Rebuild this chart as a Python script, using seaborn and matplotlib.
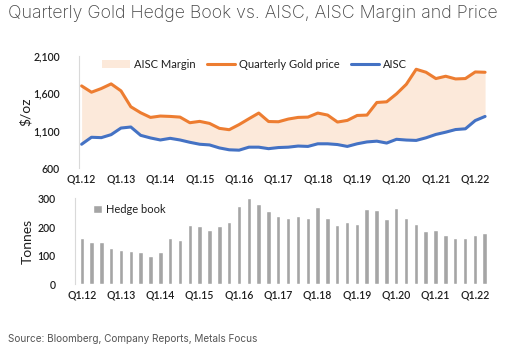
import pandas as pd
import matplotlib
matplotlib.use("Agg")
import matplotlib.pyplot as plt
import seaborn as sns
from matplotlib.patches import Patch
from matplotlib.lines import Line2D

# Quarters Q1.12 .. Q2.22
quarters = [f"Q{q}.{y}" for y in range(12, 23) for q in range(1, 5)][:42]

gold_price = [1697, 1613, 1662, 1724, 1631, 1419, 1339, 1277, 1295, 1290, 1281, 1206,
              1224, 1197, 1131, 1113, 1181, 1259, 1335, 1222, 1219, 1255, 1277, 1281,
              1335, 1308, 1215, 1237, 1303, 1308, 1476, 1485, 1591, 1719, 1919, 1879,
              1795, 1826, 1790, 1795, 1883, 1879]

aisc = [919, 1012, 1007, 1047, 1135, 1149, 1038, 1003, 976, 998, 976, 945,
        919, 910, 870, 845, 840, 880, 880, 860, 875, 880, 895, 890,
        925, 925, 915, 890, 925, 950, 960, 935, 985, 975, 970, 1005,
        1050, 1080, 1115, 1125, 1235, 1290]

hedge_book = [160, 148, 148, 125, 120, 117, 114, 100, 112, 163, 155, 206,
              202, 188, 202, 219, 274, 300, 281, 257, 240, 233, 240, 230,
              269, 230, 206, 219, 212, 263, 259, 227, 265, 230, 209, 185,
              191, 172, 160, 163, 173, 178]

ORANGE = "#ED7D31"
BLUE = "#4472C4"
FILL = "#FCE9DA"
GREY_BAR = "#A5A5A5"
TEXT = "#1F1F1F"
AXIS = "#D9D9D9"


def style_axis(ax):
    for s in ["top", "right", "bottom"]:
        ax.spines[s].set_visible(False)
    ax.spines["left"].set_color(AXIS)
    ax.tick_params(axis="y", colors=AXIS, labelcolor=TEXT, labelsize=7.6,
                   length=3, pad=11)
    ax.tick_params(axis="x", length=0, labelcolor=TEXT, labelsize=7.6, pad=4)
    for lab in ax.get_xticklabels() + ax.get_yticklabels():
        lab.set_fontweight("semibold")
    ax.grid(False)


def main():
    sns.set_style("white")
    plt.rcParams["font.family"] = ["Lato", "DejaVu Sans"]

    df = pd.DataFrame({"idx": range(len(quarters)), "quarter": quarters,
                       "gold": gold_price, "aisc": aisc, "hedge": hedge_book})

    fig = plt.figure(figsize=(5.14, 3.64), dpi=100)
    ax1 = fig.add_axes([0.154, 0.538, 0.806, 0.309])
    ax2 = fig.add_axes([0.146, 0.219, 0.814, 0.236])

    # top panel: price, AISC and margin
    ax1.fill_between(df["idx"], df["aisc"], df["gold"], color=FILL, linewidth=0)
    sns.lineplot(data=df, x="idx", y="gold", color=ORANGE, linewidth=2.2, ax=ax1)
    sns.lineplot(data=df, x="idx", y="aisc", color=BLUE, linewidth=2.2, ax=ax1)
    ax1.set_ylim(600, 2100)
    ax1.set_yticks([600, 1100, 1600, 2100])
    ax1.set_yticklabels(["600", "1,100", "1,600", "2,100"])
    ax1.set_xlim(-0.25, 41.85)
    ax1.set_xticks(range(0, 42, 4))
    ax1.set_xticklabels(quarters[::4])
    ax1.set_xlabel("")
    ax1.set_ylabel("$/oz", fontsize=10, color=TEXT, labelpad=1)
    style_axis(ax1)
    handles = [Patch(facecolor=FILL, edgecolor="none"),
               Line2D([0], [0], color=ORANGE, lw=2.2),
               Line2D([0], [0], color=BLUE, lw=2.2)]
    ax1.legend(handles, ["AISC Margin", "Quarterly Gold price", "AISC"], ncol=3,
               loc="upper left", bbox_to_anchor=(0.03, 1.06), frameon=False,
               fontsize=8, handlelength=2.6, columnspacing=1.0, handletextpad=0.3,
               labelcolor=TEXT)

    # bottom panel: hedge book
    sns.barplot(data=df, x="quarter", y="hedge", order=quarters, color=GREY_BAR,
                width=0.45, saturation=1, ax=ax2, label="Hedge book")
    ax2.set_ylim(0, 300)
    ax2.set_yticks(range(0, 301, 100))
    ax2.set_xlim(-0.68, 41.9)
    ax2.set_xticks(range(0, 42, 4))
    ax2.set_xticklabels(quarters[::4])
    ax2.set_xlabel("")
    ax2.set_ylabel("Tonnes", fontsize=10, color=TEXT, labelpad=3)
    style_axis(ax2)
    ax2.legend([Patch(facecolor=GREY_BAR)], ["Hedge book"], loc="upper left",
               bbox_to_anchor=(0.02, 1.05), frameon=False, fontsize=8,
               handlelength=0.8, handleheight=0.8, handletextpad=0.3,
               labelcolor=TEXT)

    fig.text(0.016, 0.962, "Quarterly Gold Hedge Book vs. AISC, AISC Margin and Price",
             fontsize=12.8, color="#444444", family=["Inter", "DejaVu Sans"],
             fontweight="light", va="center")
    fig.text(0.016, 0.069, "Source: Bloomberg, Company Reports, Metals Focus",
             fontsize=7.2, color="#555555", family=["Inter", "DejaVu Sans"],
             va="center")

    fig.savefig("out.png", dpi=100)
    plt.close(fig)


if __name__ == "__main__":
    main()
